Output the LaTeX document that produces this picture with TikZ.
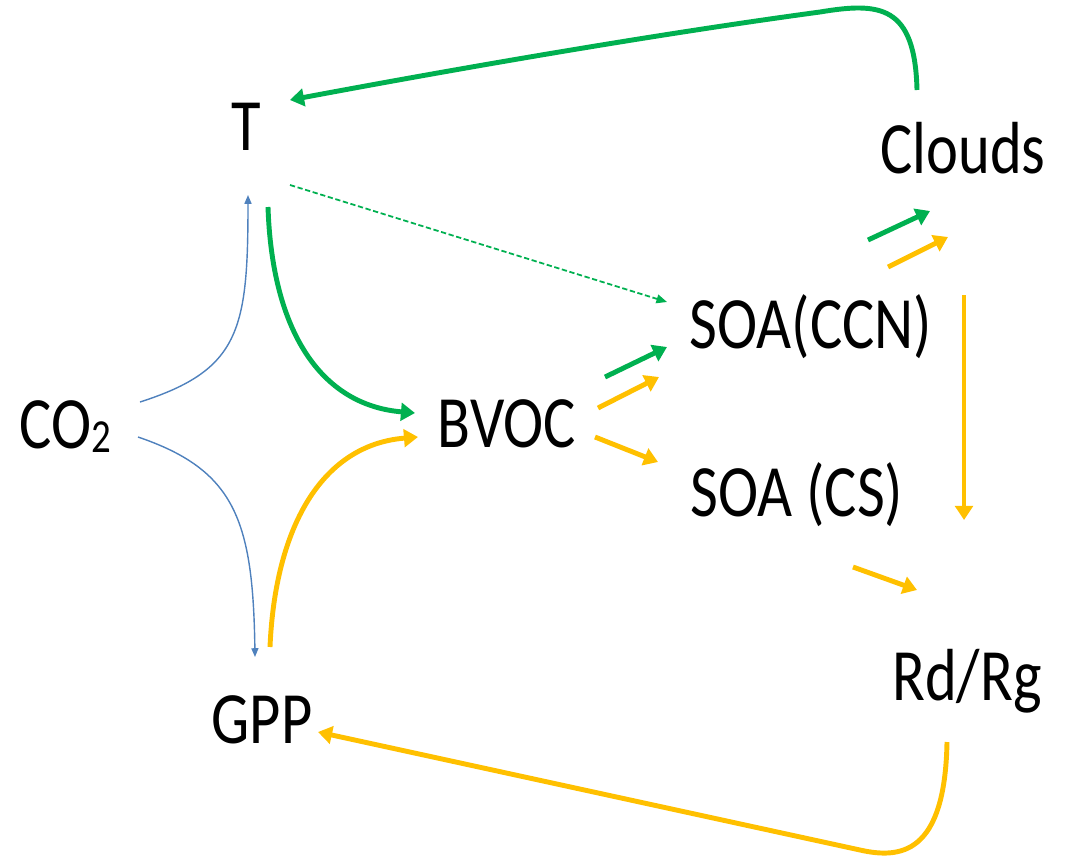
\documentclass[tikz,border=0pt]{standalone}
\usepackage{fontspec}
\setmainfont{Carlito}
\usetikzlibrary{arrows.meta}
\definecolor{grnarr}{RGB}{0,176,80}
\definecolor{ylwarr}{RGB}{255,192,0}
\definecolor{bluarr}{RGB}{79,129,189}

\begin{document}
\begin{tikzpicture}[x=0.02cm,y=-0.02cm,
  lbl/.style={font=\fontsize{42}{50}\selectfont,xscale=.82,inner sep=0pt,anchor=base},
  fat/.style={line width=2.8pt,-{Triangle[length=8pt,width=10pt]}},
  grn/.style={fat,draw=grnarr},
  ylw/.style={fat,draw=ylwarr},
  blu/.style={line width=0.8pt,draw=bluarr,-{Triangle[length=5pt,width=4pt]}},
  hint/.style={line width=1pt,draw=grnarr,dashed,dash pattern=on 3pt off 1.5pt,-{Triangle[length=6pt,width=5pt]}}]
\useasboundingbox (0,0) rectangle (1071,859);

% variables
\node[lbl] (T) at (246,150) {T};
\node[lbl] (clouds) at (963,173) {Clouds};
\node[lbl] (ccn) at (811,348) {SOA(CCN)};
\node[lbl] (bvoc) at (507,447) {BVOC};
\node[lbl] (cs) at (797,516) {SOA (CS)};
\node[lbl] (co2) at (65,448) {CO\raisebox{-0.06em}{\fontsize{27}{30}\selectfont 2}};
\node[lbl] (gpp) at (262,743) {GPP};
\node[lbl] (rad) at (967,700) {Rd/Rg};

% CO2 effects
\draw[blu] ([shift={(75,-46)}]co2.base) .. controls (240,370) and (248,330) .. ([shift={(2,45)}]T.base);
\draw[blu] ([shift={(73,-11)}]co2.base) .. controls (235,470) and (253,520) .. ([shift={(-7,-86)}]gpp.base);

% emissions
\draw[grn] ([shift={(22,57)}]T.base) .. controls (272,330) and (320,405) .. ([shift={(-92,-34)}]bvoc.base);
\draw[ylw] ([shift={(8,-96)}]gpp.base) .. controls (275,530) and (320,445) .. ([shift={(-89,-10)}]bvoc.base);
\draw[hint] ([shift={(44,35)}]T.base) -- ([shift={(-144,-46)}]ccn.base);

% aerosol chain
\draw[grn] ([shift={(98,-70)}]bvoc.base) -- ([shift={(-144,-1)}]ccn.base);
\draw[ylw] ([shift={(91,-39)}]bvoc.base) -- ([shift={(-152,29)}]ccn.base);
\draw[ylw] ([shift={(88,-10)}]bvoc.base) -- ([shift={(-139,-54)}]cs.base);
\draw[grn] ([shift={(57,-108)}]ccn.base) -- ([shift={(-33,38)}]clouds.base);
\draw[ylw] ([shift={(77,-81)}]ccn.base) -- ([shift={(-15,64)}]clouds.base);
\draw[ylw] ([shift={(153,-53)}]ccn.base) -- ([shift={(-3,-180)}]rad.base);
\draw[ylw] ([shift={(56,51)}]cs.base) -- ([shift={(-50,-110)}]rad.base);

% feedbacks
\draw[grn] ([shift={(-46,-83)}]clouds.base) .. controls (915,5) and (880,2) .. (820,12) .. controls (650,35) and (450,70) .. ([shift={(44,-50)}]T.base);
\draw[ylw] ([shift={(-20,42)}]rad.base) .. controls (945,855) and (900,859) .. (860,850) -- ([shift={(56,-11)}]gpp.base);
\end{tikzpicture}
\end{document}
